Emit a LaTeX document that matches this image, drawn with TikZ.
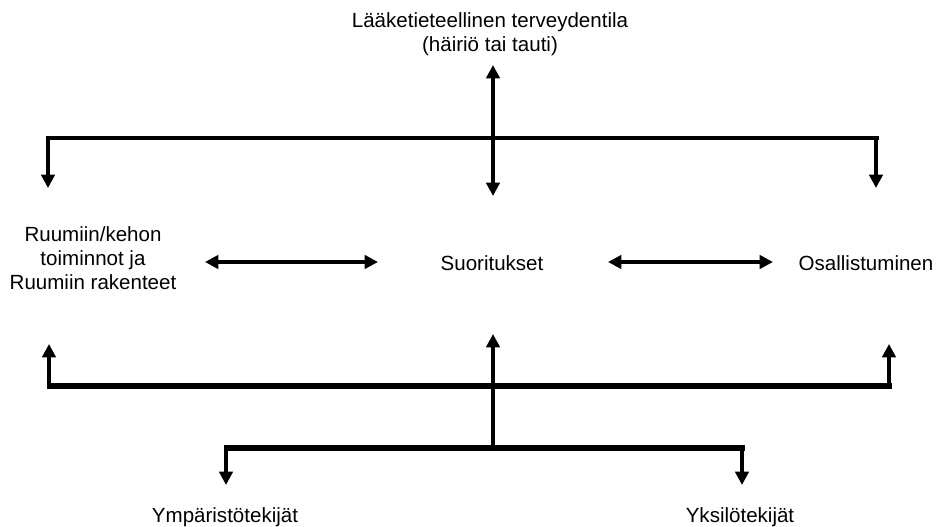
\documentclass[tikz,border=0pt]{standalone}
\usepackage{fontspec}
\setmainfont{Liberation Sans}
\usetikzlibrary{arrows.meta}

\begin{document}
\begin{tikzpicture}[x=0.75pt, y=-0.75pt,
    >={Triangle[width=10pt,length=10pt]},
    label/.style={font=\fontsize{15.4}{18}\selectfont, align=center, inner sep=0pt},
    stem/.style={line width=3.6pt},
    bar/.style={line width=3pt},
    heavybar/.style={line width=4.5pt}]
    \useasboundingbox (0,0) rectangle (936,527);

    % Texts
    \node[label] (terveys) at (490,34) {Lääketieteellinen terveydentila\\(häiriö tai tauti)};
    \node[label] (ruumis) at (93,258) {Ruumiin/kehon\\toiminnot ja\\Ruumiin rakenteet};
    \node[label] (suor) at (492,263) {Suoritukset};
    \node[label] (osal) at (866,263) {Osallistuminen};
    \node[label, anchor=base] (ymp) at (225,522) {Ympäristötekijät};
    \node[label, anchor=base] (yks) at (740,522) {Yksilötekijät};

    % Connector points
    \coordinate (terv-foot) at (493,65);
    \coordinate (suor-head) at (493,196);
    \coordinate (suor-foot) at (493,334);
    \coordinate (ruum-head) at (48,188);
    \coordinate (osal-head) at (876,188);
    \coordinate (ruum-foot) at (49,344);
    \coordinate (osal-foot) at (889,344);
    \coordinate (ymp-head) at (226,485);
    \coordinate (yks-head) at (742,485);

    % Top bracket
    \draw[bar] (45.5,138) -- (878.5,138);
    \draw[stem, ->] (48,136) -- (ruum-head);
    \draw[stem, ->] (876,136) -- (osal-head);
    \draw[stem, <->] (terv-foot) -- (suor-head);

    % Middle row
    \draw[stem, <->] (205,262) -- (378,262);
    \draw[stem, <->] (608,262) -- (773,262);

    % Bottom bracket
    \draw[heavybar] (46.5,386) -- (891.5,386);
    \draw[stem, ->] (49,389) -- (ruum-foot);
    \draw[stem, ->] (889,389) -- (osal-foot);
    \draw[stem, ->] (493,448) -- (suor-foot);

    % Factors bracket
    \draw[heavybar] (223.5,448) -- (744.5,448);
    \draw[stem, ->] (226,445) -- (ymp-head);
    \draw[stem, ->] (742,445) -- (yks-head);
\end{tikzpicture}
\end{document}
